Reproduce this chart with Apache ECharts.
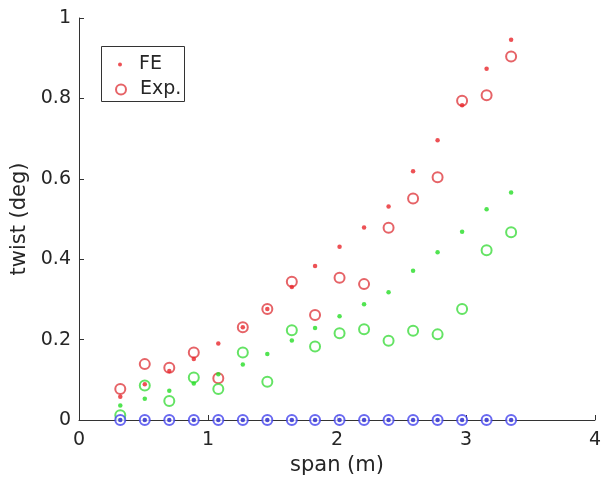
<!DOCTYPE html>
<html>
<head>
<meta charset="utf-8">
<script src="https://cdn.jsdelivr.net/npm/echarts@6/dist/echarts.min.js"></script>
<style>
    html, body { margin: 0; padding: 0; background: #fff; }
    #myChart { width: 604px; height: 482px; }
</style>
</head>
<body>
<div id="myChart"></div>
<script>
    // span positions (m)
    var span = [0.32, 0.51, 0.70, 0.89, 1.08, 1.27, 1.46, 1.65, 1.83, 2.02, 2.21, 2.40, 2.59, 2.78, 2.97, 3.16, 3.35]
    // twist (deg)
    var redFE = [0.058, 0.089, 0.122, 0.152, 0.190, 0.231, 0.276, 0.331, 0.383, 0.431, 0.479, 0.531, 0.619, 0.696, 0.783, 0.874, 0.946]
    var redExp = [0.077, 0.139, 0.130, 0.168, 0.104, 0.231, 0.276, 0.344, 0.261, 0.354, 0.338, 0.478, 0.551, 0.604, 0.794, 0.808, 0.904]
    var greenFE = [0.036, 0.053, 0.073, 0.091, 0.114, 0.138, 0.164, 0.198, 0.229, 0.258, 0.288, 0.318, 0.371, 0.417, 0.468, 0.524, 0.566]
    var greenExp = [0.012, 0.086, 0.047, 0.106, 0.077, 0.168, 0.095, 0.223, 0.183, 0.216, 0.226, 0.197, 0.222, 0.213, 0.276, 0.422, 0.467]
    var blueFE = [0, 0, 0, 0, 0, 0, 0, 0, 0, 0, 0, 0, 0, 0, 0, 0, 0]
    var blueExp = [0, 0, 0, 0, 0, 0, 0, 0, 0, 0, 0, 0, 0, 0, 0, 0, 0]
    var xTicks = [0, 1, 2, 3, 4]
    var yTicks = [0, 0.2, 0.4, 0.6, 0.8, 1]

    function pairs (ys) {
        var out = []
        for (var i = 0; i < span.length; i++) {
            out.push([span[i], ys[i]])
        }
        return out
    }

    var font = 'DejaVu Sans'
    var textColor = '#262626'

    function dots (name, ys, color) {
        return {
            name: name,
            type: 'scatter',
            data: pairs(ys),
            symbol: 'circle',
            symbolSize: 4.5,
            itemStyle: { color: color },
            z: 3
        }
    }
    function rings (name, ys, color) {
        return {
            name: name,
            type: 'scatter',
            data: pairs(ys),
            symbol: 'emptyCircle',
            symbolSize: 10,
            itemStyle: { color: color, borderColor: color, borderWidth: 1.3 },
            z: 2
        }
    }

    var myChart = echarts.init(document.getElementById('myChart'))
    myChart.setOption({
        backgroundColor: '#fff',
        animation: false,
        grid: { left: 79, right: 6, top: 18, bottom: 62 },
        xAxis: {
            type: 'value',
            min: 0,
            max: 4,
            interval: 1,
            name: 'span (m)',
            nameLocation: 'middle',
            nameGap: 30,
            nameTextStyle: { fontFamily: font, fontSize: 21, color: textColor },
            axisLine: { show: true, lineStyle: { color: '#333', width: 1 } },
            axisTick: { show: true, inside: true, length: 5, lineStyle: { color: '#333' } },
            axisLabel: {
                fontFamily: font, fontSize: 19, color: textColor, margin: 11,
                formatter: function (v) { return xTicks.indexOf(v) >= 0 ? String(v) : '' }
            },
            splitLine: { show: false }
        },
        yAxis: {
            type: 'value',
            min: 0,
            max: 1,
            interval: 0.2,
            name: 'twist (deg)',
            nameLocation: 'middle',
            nameGap: 46,
            nameTextStyle: { fontFamily: font, fontSize: 21, color: textColor },
            axisLine: { show: true, lineStyle: { color: '#333', width: 1 } },
            axisTick: { show: true, inside: true, length: 5, lineStyle: { color: '#333' } },
            axisLabel: {
                fontFamily: font, fontSize: 19, color: textColor, margin: 8,
                formatter: function (v) {
                    for (var i = 0; i < yTicks.length; i++) {
                        if (Math.abs(yTicks[i] - v) < 1e-9) return String(yTicks[i])
                    }
                    return ''
                }
            },
            splitLine: { show: false }
        },
        graphic: [{
            type: 'rect',
            left: 101,
            top: 46,
            shape: { width: 83, height: 55 },
            style: { fill: '#fff', stroke: '#333', lineWidth: 1 },
            z: 10
        }],
        legend: [{
            data: ['FE'],
            left: 113,
            top: 50,
            itemWidth: 4,
            itemHeight: 4,
            selectedMode: false,
            z: 11,
            textStyle: { fontFamily: font, fontSize: 19, color: textColor, padding: [0, 0, 0, 12] }
        }, {
            data: ['Exp.'],
            left: 110,
            top: 75,
            itemWidth: 10,
            itemHeight: 10,
            selectedMode: false,
            z: 11,
            textStyle: { fontFamily: font, fontSize: 19, color: textColor, padding: [0, 0, 0, 9] }
        }],
        series: [
            dots('FE', redFE, '#e8262b'),
            rings('Exp.', redExp, '#e03c41'),
            dots('FE green', greenFE, '#26dd26'),
            rings('Exp. green', greenExp, '#3ddc3d'),
            rings('Exp. blue', blueExp, '#4444ee'),
            dots('FE blue', blueFE, '#2222cc')
        ]
    })
</script>
</body>
</html>
